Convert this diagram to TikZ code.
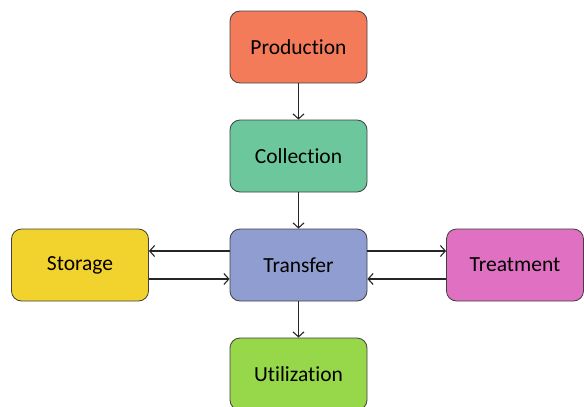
\documentclass[tikz,border=0pt]{standalone}
\usepackage{fontspec}
\setmainfont[Ligatures=NoCommon]{Carlito}
\usetikzlibrary{arrows,arrows.meta}

\definecolor{prodcol}{HTML}{F47B5A}
\definecolor{collcol}{HTML}{6CC89C}
\definecolor{transcol}{HTML}{8F9DD0}
\definecolor{storcol}{HTML}{F2D22C}
\definecolor{treatcol}{HTML}{E070C1}
\definecolor{utilcol}{HTML}{97D74A}

\begin{document}
\begin{tikzpicture}[x=1pt,y=-1pt,
		stage/.style={draw=black!75,line width=0.8pt,rounded corners=10pt,
			minimum width=137pt,minimum height=72pt,inner sep=0pt,
			font=\fontsize{21.5}{25}\selectfont},
		flow/.style={-{Straight Barb[length=5pt,width=11pt,line width=1.1pt]},line width=1.3pt,black!85}]
			\useasboundingbox (0,0) rectangle (584,407);
			\node[stage,fill=prodcol] (prod) at (298.5,47) {Production};
			\node[stage,fill=collcol] (coll) at (298.5,156) {Collection};
			\node[stage,fill=transcol] (trans) at (298.5,265) {Transfer};
			\node[stage,fill=storcol] (stor) at (80,265) {Storage};
			\node[stage,fill=treatcol] (treat) at (515,265) {Treatment};
			\node[stage,fill=utilcol] (util) at (298.5,374) {Utilization};
			\draw[flow] (prod) -- (coll);
			\draw[flow] (coll) -- (trans);
			\draw[flow] (trans) -- (util);
			\draw[flow] ([yshift=14pt]trans.west) -- ([yshift=14pt]stor.east);
			\draw[flow] ([yshift=-14pt]stor.east) -- ([yshift=-14pt]trans.west);
			\draw[flow] ([yshift=14pt]trans.east) -- ([yshift=14pt]treat.west);
			\draw[flow] ([yshift=-14pt]treat.west) -- ([yshift=-14pt]trans.east);
		\end{tikzpicture}
\end{document}
